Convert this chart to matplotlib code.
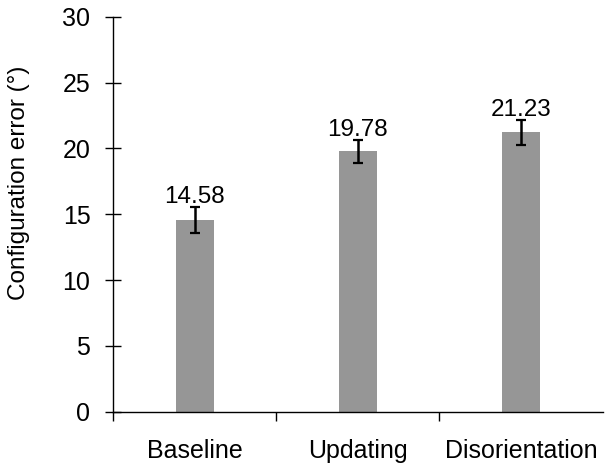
import numpy as np
import matplotlib
matplotlib.use("Agg")
import matplotlib.pyplot as plt

# values
conditions = ["Baseline", "Updating", "Disorientation"]
mean_error = [14.58, 19.78, 21.23]
sem_error = [0.98, 0.89, 0.97]

plt.rcParams['font.family'] = ['Liberation Sans', 'DejaVu Sans']

fig = plt.figure(figsize=(6.12, 4.68), dpi=100)
ax = fig.add_axes([0.1846, 0.1207, 0.8000, 0.843])

x = np.arange(len(conditions))
ax.bar(x, mean_error, width=0.232, color='#969696', zorder=2)
ax.errorbar(x, mean_error, yerr=sem_error, fmt='none', ecolor='black',
            elinewidth=1.8, capsize=3.8, capthick=1.6, zorder=3)

for xi, m, e in zip(x, mean_error, sem_error):
    ax.text(xi, m + e + 0.26, f"{m:.2f}", ha='center', va='baseline', fontsize=17.5)

ax.set_xlim(-0.5, 2.5)
ax.set_ylim(0, 30)
ax.set_yticks(np.arange(0, 31, 5))
ax.set_ylabel("Configuration error (°)", fontsize=17.5)
ax.yaxis.set_label_coords(-0.17, 0.58)

# category boundaries get ticks, labels sit at the bar centres
ax.set_xticks([-0.5, 0.5, 1.5])
ax.set_xticklabels([])
ax.set_xticks(x, minor=True)
ax.set_xticklabels(conditions, minor=True, fontsize=18)
ax.tick_params(axis='x', which='major', direction='out', length=6.5, width=1)
ax.tick_params(axis='x', which='minor', length=0, pad=20)
ax.tick_params(axis='y', direction='inout', length=11.5, width=1, labelsize=18, pad=10.5)

for side in ['top', 'right']:
    ax.spines[side].set_visible(False)
for side in ['left', 'bottom']:
    ax.spines[side].set_linewidth(1)

fig.savefig("out.png", dpi=100)
